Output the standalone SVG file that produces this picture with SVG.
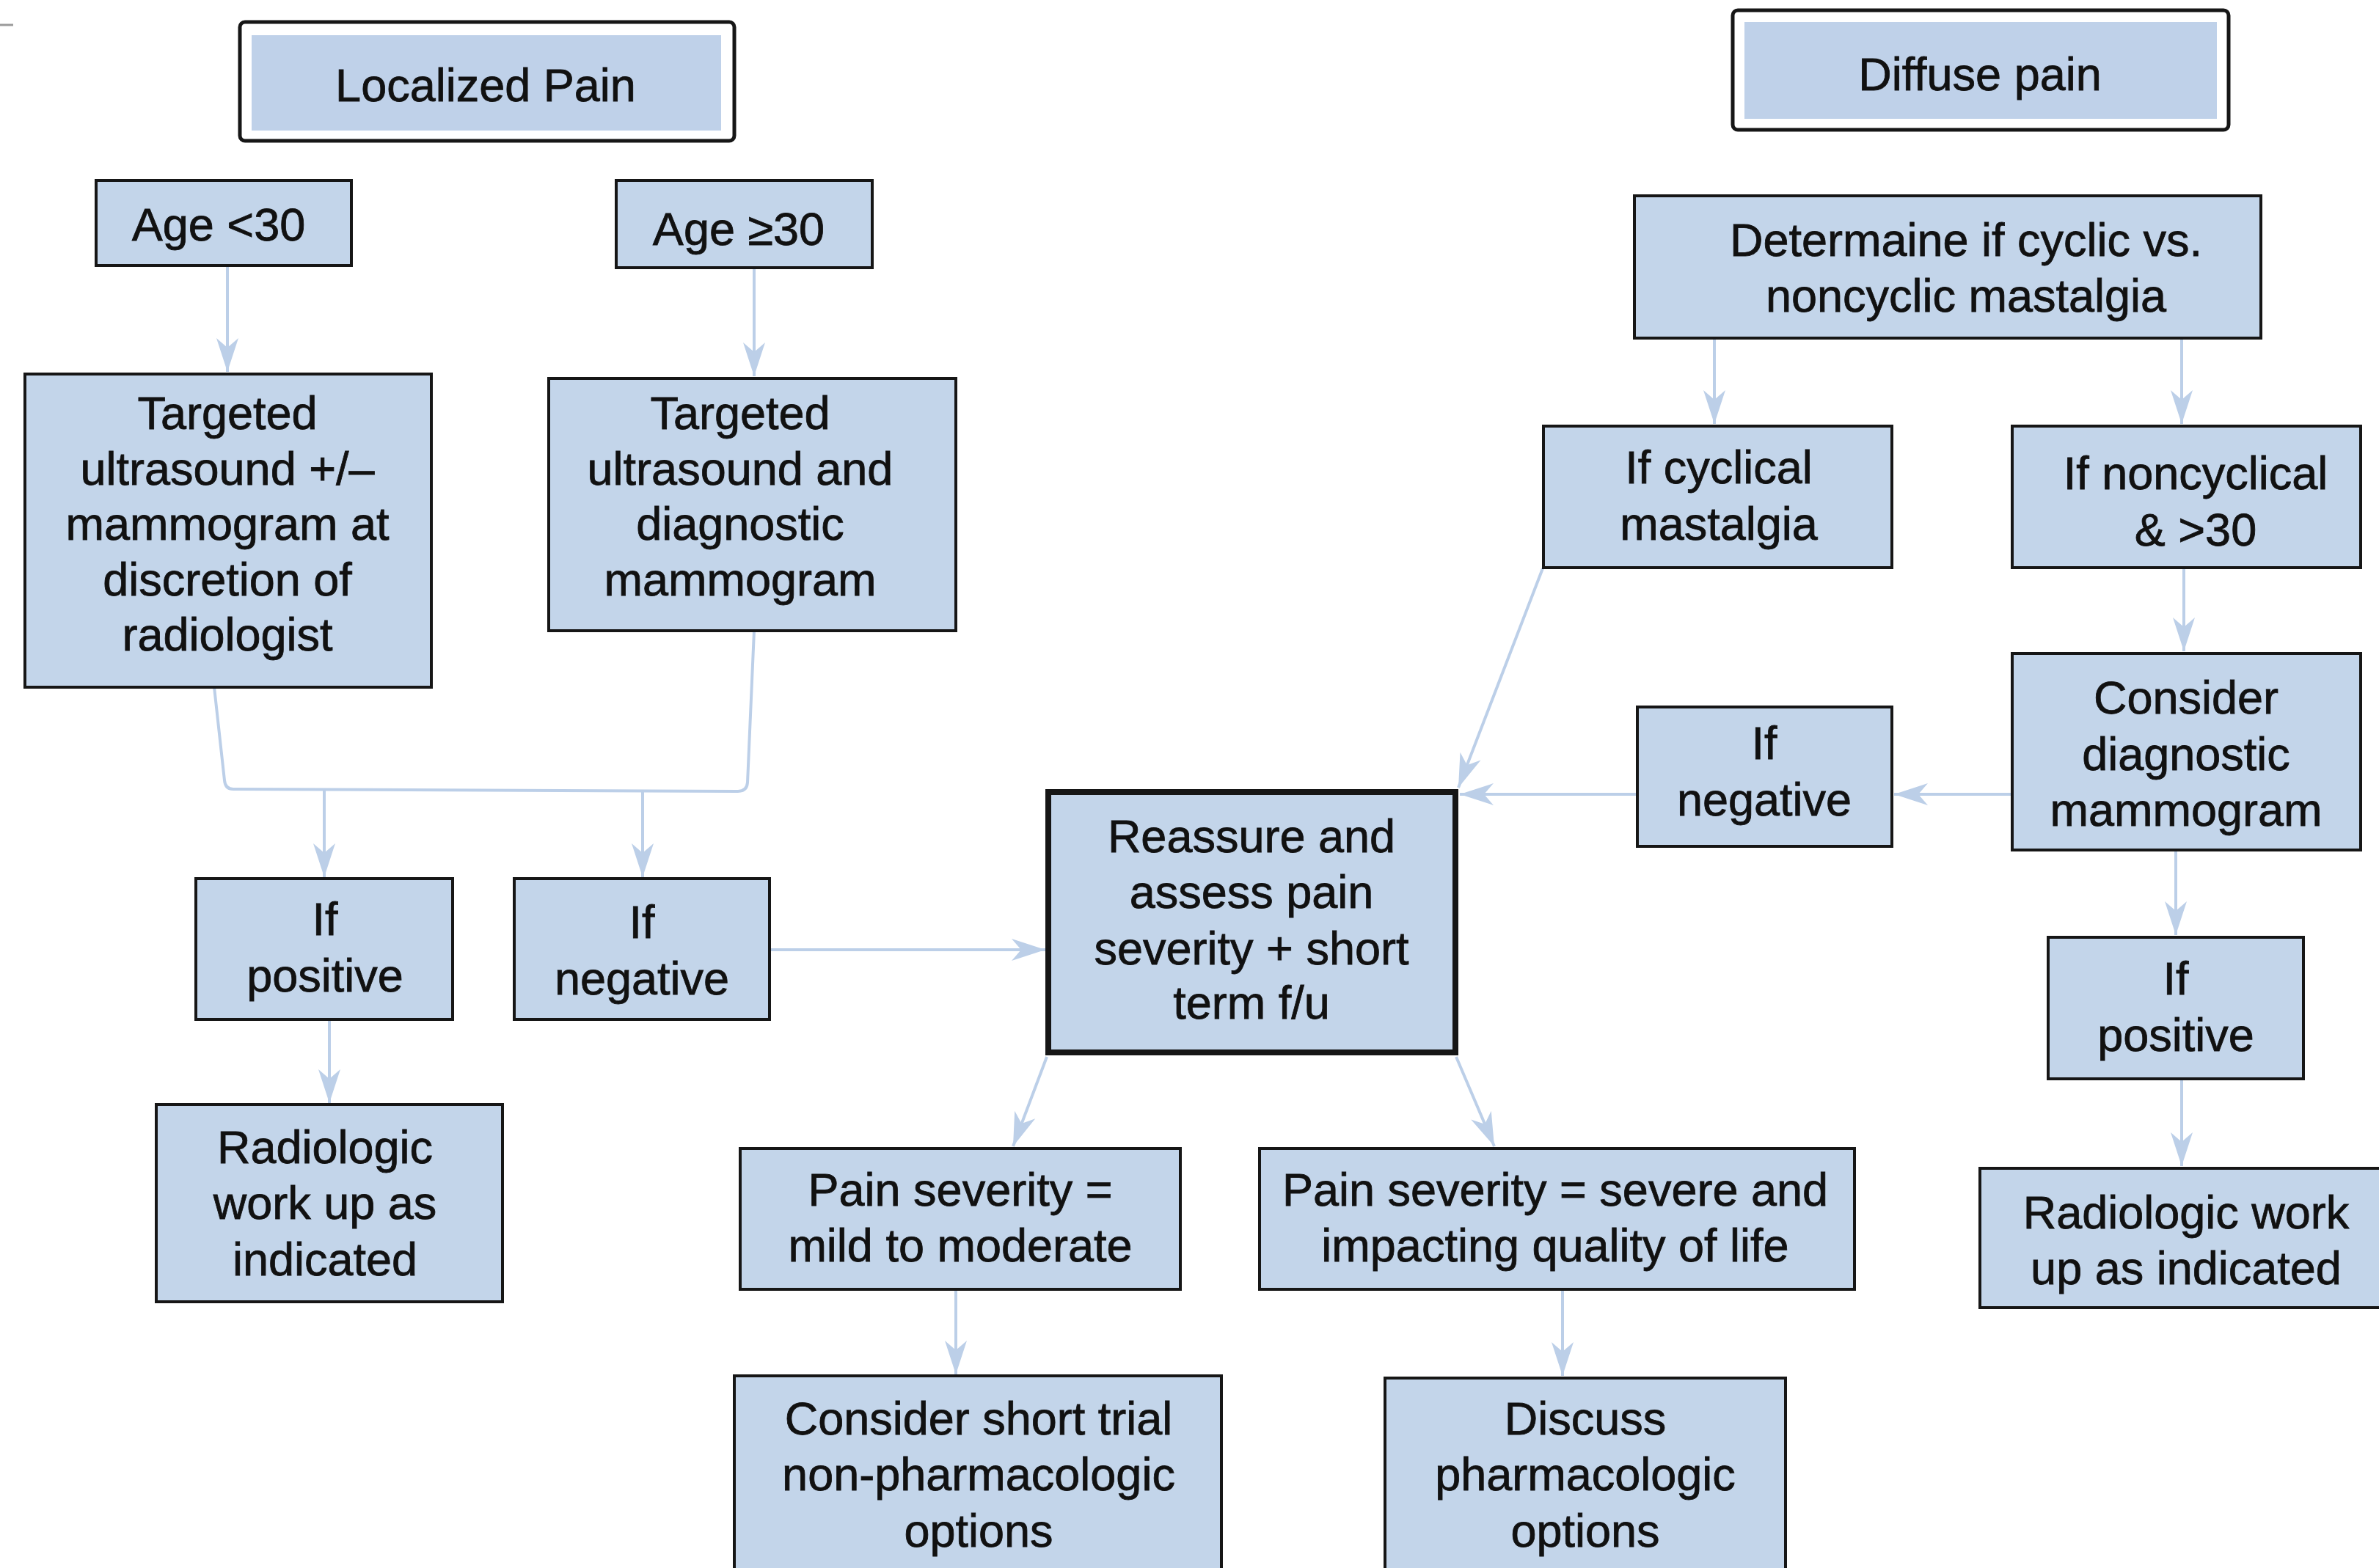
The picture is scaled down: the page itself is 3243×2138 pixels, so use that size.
<svg xmlns="http://www.w3.org/2000/svg" width="3243" height="2138" viewBox="0 0 3243 2138">
<style>
.box{fill:#c3d5ea;stroke:#161616;stroke-width:4}
.thick{fill:#c3d5ea;stroke:#161616;stroke-width:8}
.frame{fill:#ffffff;stroke:#161616;stroke-width:5}
.inner{fill:#bfd1e9;stroke:none}
text{font-family:"Liberation Sans",Arial,Helvetica,sans-serif;font-size:63px;fill:#111111;stroke:#111111;stroke-width:0.8px;text-anchor:middle}
.conn{fill:none;stroke:#bccfe8;stroke-width:4}
</style>
<defs>
<marker id="arr" markerUnits="userSpaceOnUse" viewBox="-48 -17 50 34" refX="0" refY="0" markerWidth="50" markerHeight="34" orient="auto">
<path d="M0,0 L-46,-15 L-33,0 L-46,15 Z" fill="#bccfe8"/>
</marker>
</defs>
<rect width="3243" height="2138" fill="#ffffff"/>
<line x1="0" y1="34" x2="18" y2="34" stroke="#9a9a9a" stroke-width="3"/>

<g id="connectors">
<path class="conn" d="M310,362 L310,507" marker-end="url(#arr)"/>
<path class="conn" d="M1028,365 L1028,513" marker-end="url(#arr)"/>
<path class="conn" d="M292,937 L306,1064 Q307,1076 318,1076 L1006,1079 Q1018,1079 1019,1067 L1028,860"/>
<path class="conn" d="M442,1077 L442,1196" marker-end="url(#arr)"/>
<path class="conn" d="M876,1079 L876,1196" marker-end="url(#arr)"/>
<path class="conn" d="M449,1390 L449,1504" marker-end="url(#arr)"/>
<path class="conn" d="M1049,1295 L1425,1295" marker-end="url(#arr)"/>
<path class="conn" d="M1427,1441 L1381,1563" marker-end="url(#arr)"/>
<path class="conn" d="M1985,1441 L2037,1563" marker-end="url(#arr)"/>
<path class="conn" d="M1303,1758 L1303,1874" marker-end="url(#arr)"/>
<path class="conn" d="M2130,1758 L2130,1876" marker-end="url(#arr)"/>
<path class="conn" d="M2337,461 L2337,578" marker-end="url(#arr)"/>
<path class="conn" d="M2974,461 L2974,578" marker-end="url(#arr)"/>
<path class="conn" d="M2103,775 L1988,1074" marker-end="url(#arr)"/>
<path class="conn" d="M2232,1083 L1990,1083" marker-end="url(#arr)"/>
<path class="conn" d="M2743,1083 L2582,1083" marker-end="url(#arr)"/>
<path class="conn" d="M2977,774 L2977,888" marker-end="url(#arr)"/>
<path class="conn" d="M2966,1159 L2966,1275" marker-end="url(#arr)"/>
<path class="conn" d="M2974,1471 L2974,1590" marker-end="url(#arr)"/>
</g>

<g id="localized-pain">
<rect class="frame" x="327" y="30" width="674" height="162" rx="7"/>
<rect class="inner" x="343" y="48" width="640" height="130"/>
<text x="662" y="138">Localized Pain</text>
</g>
<g id="diffuse-pain">
<rect class="frame" x="2362" y="14" width="676" height="163" rx="7"/>
<rect class="inner" x="2378" y="30" width="644" height="132"/>
<text x="2699" y="123">Diffuse pain</text>
</g>
<g id="age-under-30">
<rect class="box" x="131" y="246" width="348" height="116"/>
<text x="298" y="328">Age &lt;30</text>
</g>
<g id="age-30-plus">
<rect class="box" x="840" y="246" width="349" height="119"/>
<text x="1007" y="334">Age ≥30</text>
</g>
<g id="targeted-us-left">
<rect class="box" x="34" y="510" width="554" height="427"/>
<text x="310" y="585">Targeted</text>
<text x="310" y="661">ultrasound +/–</text>
<text x="310" y="736">mammogram at</text>
<text x="310" y="812">discretion of</text>
<text x="310" y="887">radiologist</text>
</g>
<g id="targeted-us-right">
<rect class="box" x="748" y="516" width="555" height="344"/>
<text x="1009" y="585">Targeted</text>
<text x="1009" y="661">ultrasound and</text>
<text x="1009" y="736">diagnostic</text>
<text x="1009" y="812">mammogram</text>
</g>
<g id="if-positive-left">
<rect class="box" x="267" y="1198" width="350" height="192"/>
<text x="443" y="1275">If</text>
<text x="443" y="1352">positive</text>
</g>
<g id="if-negative-left">
<rect class="box" x="701" y="1198" width="348" height="192"/>
<text x="875" y="1279">If</text>
<text x="875" y="1356">negative</text>
</g>
<g id="radiologic-left">
<rect class="box" x="213" y="1506" width="472" height="269"/>
<text x="443" y="1586">Radiologic</text>
<text x="443" y="1662">work up as</text>
<text x="443" y="1739">indicated</text>
</g>
<g id="reassure">
<rect class="thick" x="1429" y="1080" width="555" height="355"/>
<text x="1706" y="1162">Reassure and</text>
<text x="1706" y="1238">assess pain</text>
<text x="1706" y="1315">severity + short</text>
<text x="1706" y="1389">term f/u</text>
</g>
<g id="pain-mild">
<rect class="box" x="1009" y="1566" width="600" height="192"/>
<text x="1309" y="1644">Pain severity =</text>
<text x="1309" y="1720">mild to moderate</text>
</g>
<g id="pain-severe">
<rect class="box" x="1717" y="1566" width="811" height="192"/>
<text x="2120" y="1644">Pain severity = severe and</text>
<text x="2120" y="1720">impacting quality of life</text>
</g>
<g id="non-pharm">
<rect class="box" x="1001" y="1876" width="664" height="280"/>
<text x="1334" y="1956">Consider short trial</text>
<text x="1334" y="2032">non-pharmacologic</text>
<text x="1334" y="2109">options</text>
</g>
<g id="pharm">
<rect class="box" x="1888" y="1879" width="546" height="280"/>
<text x="2161" y="1956">Discuss</text>
<text x="2161" y="2032">pharmacologic</text>
<text x="2161" y="2109">options</text>
</g>
<g id="determine-cyclic">
<rect class="box" x="2228" y="267" width="854" height="194"/>
<text x="2680" y="349">Determaine if cyclic vs.</text>
<text x="2680" y="425">noncyclic mastalgia</text>
</g>
<g id="if-cyclical">
<rect class="box" x="2104" y="581" width="475" height="193"/>
<text x="2343" y="659">If cyclical</text>
<text x="2343" y="736">mastalgia</text>
</g>
<g id="if-noncyclical">
<rect class="box" x="2743" y="581" width="475" height="193"/>
<text x="2993" y="667">If noncyclical</text>
<text x="2993" y="744">&amp; &gt;30</text>
</g>
<g id="consider-diagnostic">
<rect class="box" x="2743" y="891" width="475" height="268"/>
<text x="2980" y="973">Consider</text>
<text x="2980" y="1050">diagnostic</text>
<text x="2980" y="1126">mammogram</text>
</g>
<g id="if-negative-right">
<rect class="box" x="2232" y="964" width="347" height="190"/>
<text x="2405" y="1035">If</text>
<text x="2405" y="1112">negative</text>
</g>
<g id="if-positive-right">
<rect class="box" x="2792" y="1278" width="348" height="193"/>
<text x="2966" y="1356">If</text>
<text x="2966" y="1433">positive</text>
</g>
<g id="radiologic-right">
<rect class="box" x="2699" y="1593" width="560" height="190"/>
<text x="2980" y="1675">Radiologic work</text>
<text x="2980" y="1751">up as indicated</text>
</g>
</svg>
